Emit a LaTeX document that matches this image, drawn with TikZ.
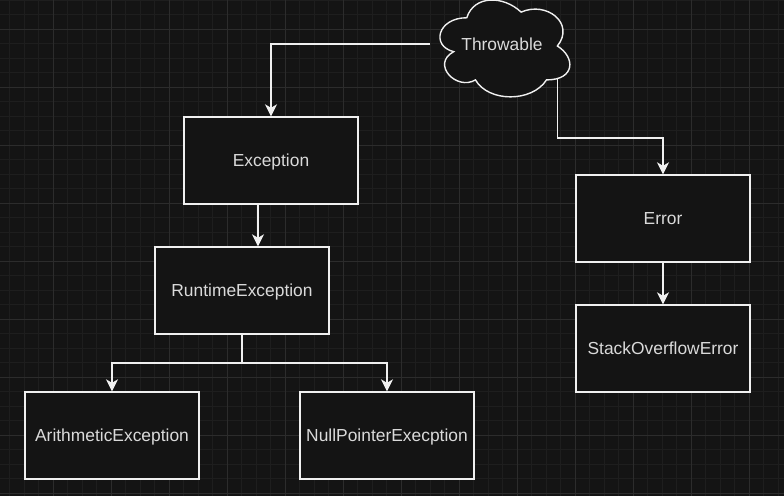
\documentclass[tikz,border=0pt]{standalone}
\usepackage{fontspec}
\setmainfont{Liberation Sans}
\usetikzlibrary{arrows.meta}
\definecolor{bg}{HTML}{141414}
\definecolor{gminor}{HTML}{1E1E1E}
\definecolor{gmajor}{HTML}{2C2C2C}
\definecolor{fg}{HTML}{F0F0F0}
\definecolor{txt}{HTML}{DADADA}
\begin{document}
\begin{tikzpicture}[x=1pt,y=-1pt,
  box/.style={draw=fg, fill=bg, line width=1.4pt, minimum width=174pt, minimum height=87pt, inner sep=0pt, text=txt, font=\fontsize{17.4}{20}\selectfont, text height=12.4pt, text depth=0pt},
  lbl/.style={text=txt, font=\fontsize{17.4}{20}\selectfont, inner sep=0pt, text height=12.4pt, text depth=0pt},
  conn/.style={draw=fg, line width=1.4pt, -{Stealth[length=12pt,width=12pt,inset=3.5pt]}},
  gmin/.style={draw=gminor, line width=1pt},
  gmaj/.style={draw=gmajor, line width=1pt}]
\fill[bg] (0,0) rectangle (784,496);
\useasboundingbox (0,0) rectangle (784,496);
\foreach \i in {0,...,53} \draw[gmin] ({9.5+14.5*\i},0) -- ++(0,496);
\foreach \i in {0,...,34} \draw[gmin] (0,{0.3+14.5*\i}) -- ++(784,0);
\foreach \i in {0,...,13} \draw[gmaj] ({53.3+58*\i},0) -- ++(0,496);
\foreach \i in {0,...,8} \draw[gmaj] (0,{29.3+58*\i}) -- ++(784,0);
% cloud
\begin{scope}[shift={(430.5,-10.5)}, x=145pt, y=-113pt]
\draw[draw=fg, fill=bg, line width=1.4pt] (0.25,0.25) .. controls (0.05,0.25) and (0,0.5) .. (0.16,0.55)
  .. controls (0,0.66) and (0.18,0.9) .. (0.31,0.8)
  .. controls (0.4,1) and (0.7,1) .. (0.8,0.8)
  .. controls (1,0.8) and (1,0.6) .. (0.875,0.5)
  .. controls (1,0.3) and (0.8,0.1) .. (0.625,0.2)
  .. controls (0.5,0.05) and (0.3,0.05) .. (0.25,0.25) -- cycle;
\end{scope}
\node[lbl] (thr) at (502,44) {Throwable};
\coordinate (thrL) at (430,44);
\coordinate (thrB) at (557.5,78);
% boxes
\node[box] (exc) at (271,160.5) {Exception};
\node[box] (rt) at (242,290.5) {RuntimeException};
\node[box] (ari) at (112,435.5) {ArithmeticException};
\node[box] (npe) at (387,435.5) {NullPointerExecption};
\node[box] (err) at (663,218.5) {Error};
\node[box] (so) at (663,348.5) {StackOverflowError};
% connectors
\draw[conn] (thrL) -| (exc.north);
\coordinate (bend1) at (557.5,138);
\draw[conn] (thrB) -- (bend1) -| (err.north);
\coordinate (m1) at (258,0);
\draw[conn] (exc.south -| m1) -- (rt.north -| m1);
\coordinate (split) at (242,363);
\draw[conn] (rt.south) -- (split) -| (ari.north);
\draw[conn] (split) -| (npe.north);
\draw[conn] (err.south) -- (so.north);
\end{tikzpicture}
\end{document}
